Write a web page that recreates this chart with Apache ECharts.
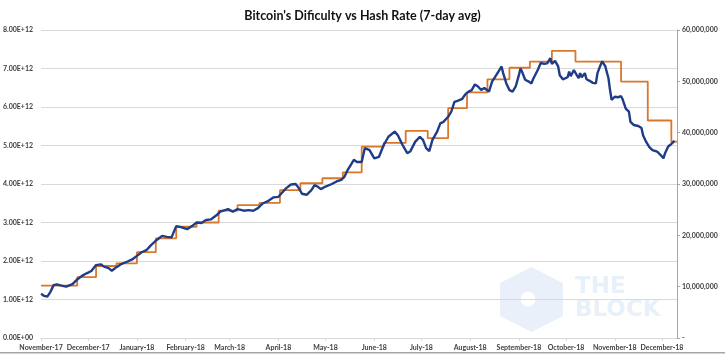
<!DOCTYPE html>
<html>
<head>
<meta charset="utf-8">
<script src="https://cdn.jsdelivr.net/npm/echarts@6/dist/echarts.min.js"></script>
<style>
  html, body { margin: 0; padding: 0; background: #fff; }
  #chart { width: 725px; height: 357px; }
</style>
</head>
<body>
<div id="chart"></div>
<script>
// ---- Data ----
// Days counted from 2017-11-01
const startDate = [2017, 10, 1];
const axisEndDay = 404.6;

// Hash rate, 7-day avg, in millions of TH/s (right axis)
const hashDay = [0,2,4,6,8,10,13,16,20,23,26,29,32,35,38,40,43,45,48,51,
  55,58,61,64,67,70,74,77,80,83,86,89,93,96,99,102,105,108,112,114,
  116,119,122,125,129,132,135,138,141,144,148,151,153,156,159,162,164,166,169,172,
  174,176,178,181,185,188,191,193,195,197,199,201,204,206,209,212,215,218,221,225,
  227,230,233,235,238,241,243,245,247,249,252,254,256,259,261,263,265,268,270,272,
  274,276,278,280,282,285,286,287,289,291,293,294,296,298,300,302,304,305,306,308,
  310,312,313,316,318,320,322,324,325,327,329,330,332,335,336,337,339,340,342,343,
  344,346,347,349,351,353,354,356,357,359,361,362,363,365,367,369,370,372,374,375,
  377,380,382,383,385,387,389,392,394,396,397,399,401,402,403];
const hashRateM = [8.6,8.2,8.05,9.0,10.3,10.45,10.2,10.0,10.5,11.4,12.1,12.6,13.05,14.2,14.35,13.9,13.6,13.1,13.8,14.4,
  14.9,15.3,16.0,16.7,17.1,18.1,19.2,19.9,19.7,19.6,21.8,21.6,21.2,21.8,22.5,22.4,23.0,23.1,24.0,24.6,
  24.8,25.1,24.6,25.1,24.8,24.9,24.8,25.3,26.2,26.6,27.4,27.5,28.2,29.2,29.9,30.0,29.2,28.1,27.9,28.8,
  29.8,29.5,29.0,29.5,30.0,30.5,30.8,31.4,32.7,33.7,34.7,34.3,34.3,37.0,36.6,35.0,35.3,37.6,39.2,40.2,
  39.5,37.6,36.0,36.4,38.2,39.2,38.6,37.0,36.4,38.6,40.2,41.8,42.1,43.1,44.1,46.0,46.2,46.6,47.5,48.0,
  48.3,49.4,49.0,48.3,48.7,48.0,47.7,50.0,50.9,51.9,52.9,51.6,49.6,48.3,48.0,49.0,51.2,52.5,51.9,50.3,
  50.0,49.6,50.4,52.2,53.6,53.4,53.5,54.5,53.4,54.0,52.9,51.2,50.4,50.8,51.9,51.0,52.2,51.9,50.6,51.6,
  50.8,51.6,50.4,50.1,49.7,49.6,51.6,53.2,53.9,52.9,50.6,48.3,46.4,47.0,46.9,47.1,46.5,44.7,44.1,42.1,
  41.5,41.3,40.9,39.5,38.2,37.2,36.6,36.3,35.7,35.0,36.0,37.3,37.8,38.1,38.4];

// Difficulty (x 1e12) at each adjustment day (left axis)
const diffDay = [0,23,35,48,61,73,86,99,113,125,139,152,165,179,192,204,218,232,246,259,
  271,284,298,311,325,340,369,386,401,404.6];
const difficultyT = [1.36,1.58,1.87,1.94,2.23,2.59,2.89,3.00,3.31,3.45,3.51,3.84,4.02,4.15,4.30,4.97,5.07,5.38,5.19,5.97,
  6.38,6.72,7.02,7.18,7.46,7.18,6.66,5.65,5.10,5.10];

// Axis ticks
const leftMax = 8e12, leftStep = 1e12;
const rightMax = 60e6, rightStep = 10e6;
const titleText = "Bitcoin's Dificulty vs Hash Rate (7-day avg)";

// ---- Build ----
const DAY = 86400000;
const t0 = new Date(startDate[0], startDate[1], startDate[2]).getTime();
const toTime = d => t0 + d * DAY;

const hashData = hashDay.map((d, i) => [toTime(d), hashRateM[i] * 1e6]);
const diffData = diffDay.map((d, i) => [toTime(d), difficultyT[i] * 1e12]);

function sci(v) {
  if (v === 0) return '0.00E+00';
  const e = Math.floor(Math.log10(v) + 1e-9);
  const m = v / Math.pow(10, e);
  return m.toFixed(2) + 'E+' + String(e).padStart(2, '0');
}

const FONT = 'Lato';
const labelColor = '#404040';

const chart = echarts.init(document.getElementById('chart'), null, { renderer: 'canvas' });
chart.setOption({
  animation: false,
  backgroundColor: '#ffffff',
  title: {
    text: titleText,
    left: 'center',
    top: 4,
    textStyle: { fontFamily: FONT, fontSize: 12.5, fontWeight: 'bold', color: '#111' }
  },
  grid: { left: 40, right: 48, top: 30, bottom: 19, containLabel: false },
  xAxis: {
    type: 'time',
    min: toTime(0),
    max: toTime(axisEndDay),
    splitNumber: 14,
    minInterval: 28 * DAY,
    maxInterval: 31 * DAY,
    axisLine: { show: true, lineStyle: { color: '#d9d9d9', width: 1 } },
    axisTick: { show: true, length: 3, lineStyle: { color: '#d9d9d9' } },
    splitLine: { show: false },
    axisLabel: {
      formatter: '{MMMM}-{yy}',
      fontFamily: FONT, fontSize: 7, fontWeight: 'bold', color: labelColor,
      margin: 6, showMaxLabel: false, hideOverlap: false
    }
  },
  yAxis: [
    {
      type: 'value',
      min: 0, max: leftMax, interval: leftStep,
      position: 'left',
      axisLine: { show: false },
      axisTick: { show: false },
      splitLine: { show: true, lineStyle: { color: '#d9d9d9', width: 1 } },
      axisLabel: {
        formatter: sci,
        fontFamily: FONT, fontSize: 7, fontWeight: 'bold', color: labelColor, margin: 8
      }
    },
    {
      type: 'value',
      min: 0, max: rightMax, interval: rightStep,
      position: 'right',
      axisLine: { show: true, lineStyle: { color: '#a6a6a6', width: 1 } },
      axisTick: { show: true, length: 3, lineStyle: { color: '#a6a6a6' } },
      splitLine: { show: false },
      axisLabel: {
        formatter: v => v === 0 ? '-' : v.toLocaleString('en-US'),
        fontFamily: FONT, fontSize: 7, fontWeight: 'bold', color: labelColor, margin: 5
      }
    }
  ],
  graphic: [
    {
      type: 'group', silent: true, z: -10,
      children: [
        { type: 'polygon', shape: { points: [[531.5,267],[563,283],[563,316],[531.5,332],[500,316],[500,283]] },
          style: { fill: '#e9f0fa' } },
        { type: 'circle', shape: { cx: 528, cy: 299, r: 7.5 }, style: { fill: '#ffffff' } },
        { type: 'text', x: 575, y: 287, style: { text: 'THE', font: 'bold 23px "DejaVu Sans"', fill: '#e8f0fa', verticalAlign: 'middle' } },
        { type: 'text', x: 575, y: 310.5, style: { text: 'BLOCK', font: 'bold 23px "DejaVu Sans"', fill: '#e8f0fa', verticalAlign: 'middle' } }
      ]
    },
    { type: 'rect', silent: true, shape: { x: 0, y: 352, width: 725, height: 1.5 }, style: { fill: '#a6a6a6' } }
  ],
  series: [
    {
      name: 'Difficulty',
      type: 'line',
      yAxisIndex: 0,
      step: 'end',
      data: diffData,
      showSymbol: false,
      lineStyle: { color: '#d9772b', width: 1.8 },
      z: 2
    },
    {
      name: 'Hash Rate (7-day avg)',
      type: 'line',
      yAxisIndex: 1,
      data: hashData,
      showSymbol: false,
      lineStyle: { color: '#1f3c88', width: 2.4 },
      z: 3
    }
  ]
});
</script>
</body>
</html>
